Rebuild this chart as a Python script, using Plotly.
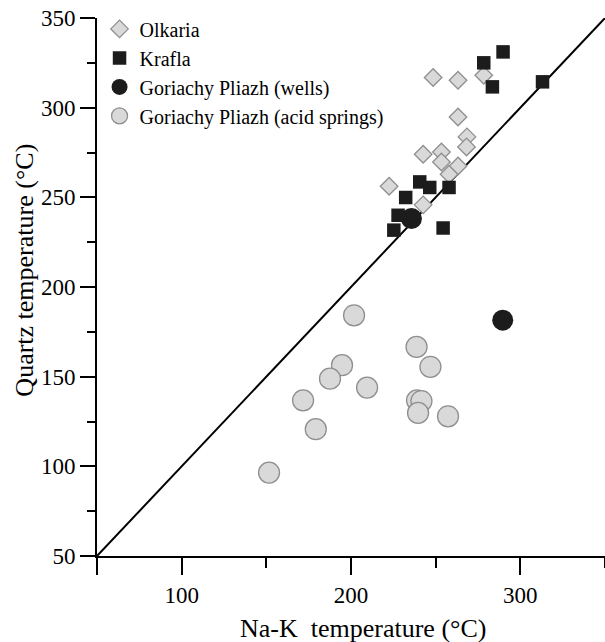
import plotly.graph_objects as go

# ---- data ----
olkaria_x = [248.5, 263.2, 278.4, 263.2, 268.5, 268.2, 242.6, 253.4, 253.4, 263.2, 257.9, 222.5, 242.6]
olkaria_y = [316.8, 315.3, 318.1, 294.8, 283.7, 278.1, 274.0, 275.3, 269.7, 267.5, 262.9, 256.2, 245.8]

krafla_x = [289.8, 278.4, 283.5, 313.1, 240.6, 246.5, 257.9, 232.3, 227.8, 225.3, 254.4]
krafla_y = [331.1, 325.0, 311.6, 314.4, 258.6, 255.5, 255.5, 249.9, 240.0, 231.7, 232.9]

wells_x = [235.7, 289.6]
wells_y = [238.2, 181.5]

springs_x = [201.8, 238.7, 246.9, 194.7, 187.6, 209.5, 171.7, 239.0, 241.6, 239.6, 257.3, 179.2, 151.6]
springs_y = [184.2, 166.6, 155.5, 156.4, 148.9, 143.9, 136.8, 136.8, 136.4, 129.8, 127.9, 120.7, 96.5]

equal_line = [50, 350]

x_tickvals = [50, 100, 200, 300]
x_ticktext = ["", "100", "200", "300"]
y_tickvals = [50, 100, 150, 200, 250, 300, 350]

x_title = "Na-K  temperature (°C)"
y_title = "Quartz temperature (°C)"

FONT = "Liberation Serif, Times New Roman, serif"
GRAY_FILL = "#d9d9d9"
GRAY_LINE = "#8f8f8f"
BLACK = "#1c1c1c"

fig = go.Figure()

fig.add_trace(go.Scatter(x=equal_line, y=equal_line, mode="lines",
                         line=dict(color="black", width=2), showlegend=False,
                         hoverinfo="skip"))

fig.add_trace(go.Scatter(x=springs_x, y=springs_y, mode="markers",
                         name="Goriachy Pliazh (acid springs)", legendrank=4,
                         marker=dict(symbol="circle", size=21, color=GRAY_FILL,
                                     line=dict(color=GRAY_LINE, width=1.3))))

fig.add_trace(go.Scatter(x=olkaria_x, y=olkaria_y, mode="markers",
                         name="Olkaria", legendrank=1,
                         marker=dict(symbol="diamond", size=13.5, color=GRAY_FILL,
                                     line=dict(color=GRAY_LINE, width=1.3))))

fig.add_trace(go.Scatter(x=krafla_x, y=krafla_y, mode="markers",
                         name="Krafla", legendrank=2,
                         marker=dict(symbol="square", size=13.5, color=BLACK,
                                     line=dict(color=BLACK, width=0))))

fig.add_trace(go.Scatter(x=wells_x, y=wells_y, mode="markers",
                         name="Goriachy Pliazh (wells)", legendrank=3,
                         marker=dict(symbol="circle", size=21, color=BLACK,
                                     line=dict(color=BLACK, width=0))))

fig.update_layout(
    width=605, height=642,
    margin=dict(l=97, r=0, t=18, b=86),
    paper_bgcolor="white", plot_bgcolor="white",
    font=dict(family=FONT, color="black", size=21),
    legend=dict(x=0.005, y=1.016, xanchor="left", yanchor="top",
                bgcolor="rgba(0,0,0,0)", font=dict(family=FONT, size=20),
                itemsizing="trace", tracegroupgap=0),
    xaxis=dict(range=[50, 350], showgrid=False, zeroline=False,
               showline=True, linecolor="black", linewidth=2,
               tickmode="array", tickvals=x_tickvals, ticktext=x_ticktext,
               ticks="outside", ticklen=17, tickwidth=2, tickcolor="black",
               minor=dict(dtick=50, tick0=50, ticks="outside", ticklen=10,
                          tickwidth=2, tickcolor="black", showgrid=False),
               tickfont=dict(size=23)),
    yaxis=dict(range=[50, 350], showgrid=False, zeroline=False,
               showline=True, linecolor="black", linewidth=2,
               tickmode="array", tickvals=y_tickvals,
               ticks="outside", ticklen=15, tickwidth=2, tickcolor="black",
               minor=dict(dtick=25, tick0=50, ticks="outside", ticklen=8,
                          tickwidth=2, tickcolor="black", showgrid=False),
               tickfont=dict(size=23)),
    annotations=[
        dict(text=x_title, xref="paper", yref="paper", x=0.524, y=-0.134,
             xanchor="center", yanchor="middle", showarrow=False,
             font=dict(family=FONT, size=26, color="black")),
        dict(text=y_title, xref="paper", yref="paper", x=-0.142, y=0.532,
             xanchor="center", yanchor="middle", textangle=-90, showarrow=False,
             font=dict(family=FONT, size=26, color="black")),
    ],
)

fig.write_html("out.html")
